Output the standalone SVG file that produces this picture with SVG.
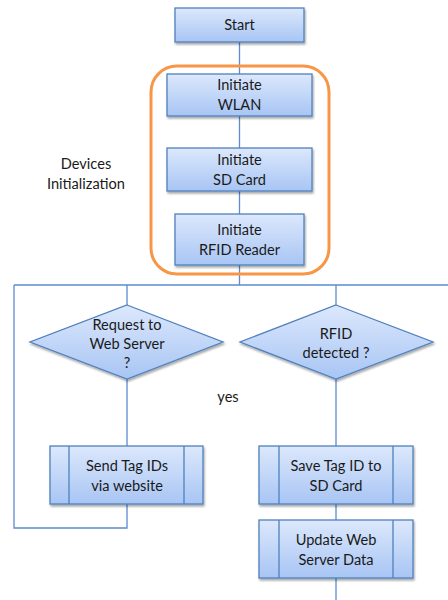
<svg xmlns="http://www.w3.org/2000/svg" width="448" height="600" viewBox="0 0 448 600">
<defs>
<linearGradient id="g" x1="0" y1="0" x2="0" y2="1">
<stop offset="0" stop-color="#dce8fc"/>
<stop offset="1" stop-color="#a8c5f4"/>
</linearGradient>
<filter id="sh" x="-10%" y="-10%" width="130%" height="140%">
<feGaussianBlur in="SourceAlpha" stdDeviation="1.2"/>
<feOffset dx="1" dy="2" result="b"/>
<feComponentTransfer><feFuncA type="linear" slope="0.35"/></feComponentTransfer>
<feMerge><feMergeNode/><feMergeNode in="SourceGraphic"/></feMerge>
</filter>
</defs>
<style>
.n{fill:url(#g);stroke:#4f81bd;stroke-width:1.3;filter:url(#sh)}
.s{fill:none;stroke:#4f81bd;stroke-width:1.3}
.c{fill:none;stroke:#5b8bd0;stroke-width:1.3}
.t{font-family:Lato,"Open Sans","Liberation Sans",sans-serif;font-size:14.6px;fill:#1a1a1a;text-anchor:middle}
</style>
<rect width="448" height="600" fill="#fff"/>
<g id="connectors">
<path class="c" d="M239.5 42V74M239.5 116V148M239.5 191V214M239.5 265V285"/>
<path class="c" d="M14 285H448"/>
<path class="c" d="M127 285V305M127 379V446M127 504V528H14V285"/>
<path class="c" d="M336 285V305M336 379V446M336 504V520M336 578V600"/>
</g>
<g id="group-devices">
<rect x="151" y="66" width="178" height="208" rx="26" fill="none" stroke="#f79646" stroke-width="3"/>
</g>
<g id="label-devices">
<text class="t" x="86" y="169">Devices</text>
<text class="t" x="86" y="189">Initialization</text>
</g>
<g id="start">
<rect class="n" x="175" y="8" width="129" height="34"/>
<text class="t" x="239.5" y="30">Start</text>
</g>
<g id="init-wlan">
<rect class="n" x="167" y="74" width="145" height="42"/>
<text class="t" x="239.5" y="90">Initiate</text>
<text class="t" x="239.5" y="110">WLAN</text>
</g>
<g id="init-sd">
<rect class="n" x="167" y="148" width="145" height="43"/>
<text class="t" x="239.5" y="165">Initiate</text>
<text class="t" x="239.5" y="185">SD Card</text>
</g>
<g id="init-rfid">
<rect class="n" x="175" y="214" width="129" height="51"/>
<text class="t" x="239.5" y="235">Initiate</text>
<text class="t" x="239.5" y="255">RFID Reader</text>
</g>
<g id="request">
<polygon class="n" points="127,305 223,342 127,379 30,342"/>
<text class="t" x="127" y="330">Request to</text>
<text class="t" x="127" y="349">Web Server</text>
<text class="t" x="127" y="368">?</text>
</g>
<g id="rfid-detected">
<polygon class="n" points="336,305 433,342 336,379 240,342"/>
<text class="t" x="336" y="339">RFID</text>
<text class="t" x="336" y="358">detected ?</text>
</g>
<g id="label-yes">
<text class="t" x="228" y="402">yes</text>
</g>
<g id="send-tags">
<rect class="n" x="50" y="446" width="153" height="58"/>
<path class="s" d="M69 446V504M184 446V504"/>
<text class="t" x="127" y="471">Send Tag IDs</text>
<text class="t" x="127" y="491">via website</text>
</g>
<g id="save-tag">
<rect class="n" x="259" y="446" width="154" height="58"/>
<path class="s" d="M279 446V504M393 446V504"/>
<text class="t" x="336" y="471">Save Tag ID to</text>
<text class="t" x="336" y="491">SD Card</text>
</g>
<g id="update-web">
<rect class="n" x="259" y="520" width="154" height="58"/>
<path class="s" d="M279 520V578M393 520V578"/>
<text class="t" x="336" y="545">Update Web</text>
<text class="t" x="336" y="565">Server Data</text>
</g>
</svg>
